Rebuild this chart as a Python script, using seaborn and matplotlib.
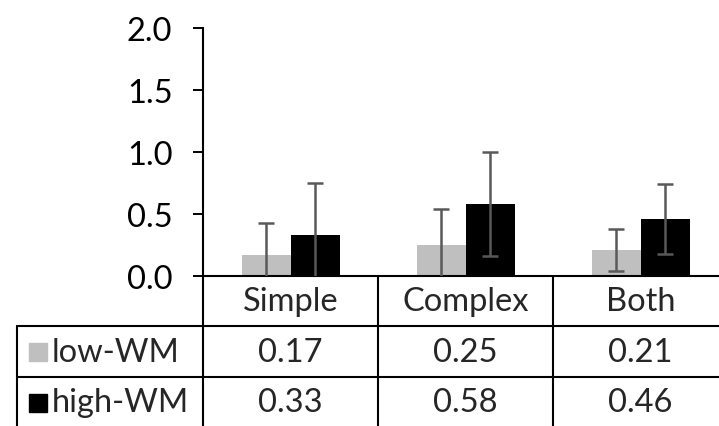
import matplotlib
matplotlib.use("Agg")
import matplotlib.pyplot as plt
import matplotlib.transforms as mtransforms
from matplotlib.lines import Line2D
from matplotlib.patches import Rectangle
import seaborn as sns
import pandas as pd

sns.set_theme(style="white")
plt.rcParams['font.family'] = ['Lato', 'DejaVu Sans']

# data
conditions = ["Simple", "Complex", "Both"]
groups = ["low-WM", "high-WM"]
low_wm = [0.17, 0.25, 0.21]
high_wm = [0.33, 0.58, 0.46]
low_err = [0.26, 0.29, 0.17]
high_err = [0.42, 0.42, 0.28]
colors = ["#BFBFBF", "#000000"]

df = pd.DataFrame({
    "condition": conditions * 2,
    "group": [groups[0]] * 3 + [groups[1]] * 3,
    "value": low_wm + high_wm,
    "err": low_err + high_err,
})

W, H = 719, 427
FS = 23.5
fig = plt.figure(figsize=(W / 100, H / 100), dpi=100)

# axes placed by pixel: y axis at x=203, 0.0 at y=277, 2.0 at y=29
ax_left, ax_right = 203, 719
y0, y2 = 277, 29
ax = fig.add_axes([ax_left / W, 1 - y0 / H, (ax_right - ax_left) / W, (y0 - y2) / H])

sns.barplot(data=df, x="condition", y="value", hue="group", order=conditions,
            hue_order=groups, palette=colors, width=0.56, errorbar=None,
            linewidth=0, legend=False, ax=ax)

# error bars at bar centres
for bar, (_, row) in zip(ax.patches, df.iterrows()):
    xc = bar.get_x() + bar.get_width() / 2
    ax.errorbar(xc, row["value"], yerr=row["err"], fmt="none", ecolor="#595959",
                elinewidth=1.8, capsize=6, capthick=1.8, zorder=3)

col_w = 175  # pixel width of one category column
ax.set_xlim(-0.5, -0.5 + (ax_right - ax_left) / col_w)
ax.set_ylim(0, 2.0)
ax.set_yticks([0, 0.5, 1.0, 1.5, 2.0])
ax.set_yticklabels([f"{v:.1f}" for v in [0, 0.5, 1.0, 1.5, 2.0]])
ax.set_xticks([])
ax.set_xlabel("")
ax.set_ylabel("")
ax.tick_params(axis="y", which="both", left=True, direction="out", length=7,
               width=1.4, pad=15, labelsize=FS, colors="black")
for s in ["top", "right"]:
    ax.spines[s].set_visible(False)
for s in ["left", "bottom"]:
    ax.spines[s].set_color("black")
    ax.spines[s].set_linewidth(1.5)


def fy(y):
    return 1 - y / H


# data table below the plot
blend = mtransforms.blended_transform_factory(ax.transData, fig.transFigure)
lw = 1.5
row_tops = [277, 327, 378, H + 2]
for xb in [-0.5, 0.5, 1.5, 2.5]:
    fig.add_artist(Line2D([xb, xb], [fy(277), fy(H + 2)], transform=blend,
                          color="black", lw=lw, clip_on=False))
fig.add_artist(Line2D([17 / W, 17 / W], [fy(327), fy(H + 2)], color="black", lw=lw))
for yb in [327, 378]:
    fig.add_artist(Line2D([17 / W, 1.0], [fy(yb), fy(yb)], color="black", lw=lw))

for i, c in enumerate(conditions):
    fig.text(i, fy(302), c, transform=blend, fontsize=FS, ha="center", va="center")

series = [low_wm, high_wm]
for r, (g, vals, col) in enumerate(zip(groups, series, colors)):
    yc = (row_tops[r + 1] + row_tops[r + 2]) / 2
    fig.add_artist(Rectangle((29 / W, fy(yc + 9)), 18 / W, 18 / H, color=col,
                             transform=fig.transFigure))
    fig.text(52 / W, fy(yc), g, fontsize=FS, ha="left", va="center")
    for i, v in enumerate(vals):
        fig.text(i, fy(yc), f"{v:.2f}", transform=blend, fontsize=FS,
                 ha="center", va="center")

fig.savefig("out.png", dpi=100)
